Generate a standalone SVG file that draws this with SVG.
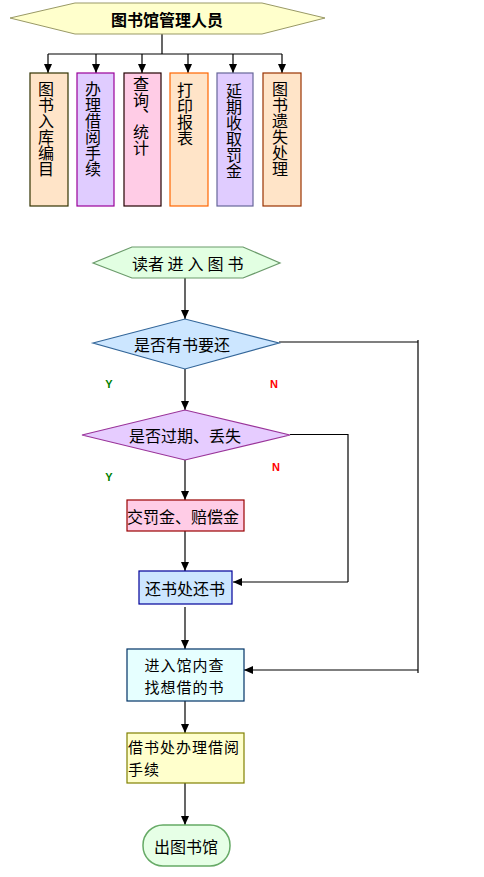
<svg xmlns="http://www.w3.org/2000/svg" width="484" height="877" viewBox="0 0 484 877">
<style>
  .t { font-family: "Noto Sans CJK SC", "Noto Sans", sans-serif; font-size: 16px; fill: #000; dominant-baseline: central; }
  .c { text-anchor: middle; }
  .two { font-size: 15px; letter-spacing: 1px; }
  .v { font-family: "Noto Sans CJK SC", "Noto Sans", sans-serif; font-size: 16px; fill: #000; writing-mode: vertical-rl; text-orientation: upright; }
  .ln { stroke: #000; stroke-width: 1.2; fill: none; }
  .arr { marker-end: url(#ah); }
  .yn { font-family: "Liberation Sans", Arial, sans-serif; font-weight: bold; font-size: 11px; text-anchor: middle; dominant-baseline: central; }
</style>
<defs>
  <marker id="ah" markerUnits="userSpaceOnUse" markerWidth="9" markerHeight="9" viewBox="0 0 9 9" refX="9" refY="4.5" orient="auto">
    <path d="M0,0.5 L9,4.5 L0,8.5 Z" fill="#000"/>
  </marker>
</defs>
<rect width="484" height="877" fill="#fff"/>

<g id="connectors">
  <line class="ln" x1="162" y1="34" x2="162" y2="54"/>
  <line class="ln" x1="48" y1="54" x2="282" y2="54"/>
  <line class="ln arr" x1="48" y1="54" x2="48" y2="73"/>
  <line class="ln arr" x1="96" y1="54" x2="96" y2="73"/>
  <line class="ln arr" x1="142" y1="54" x2="142" y2="73"/>
  <line class="ln arr" x1="188" y1="54" x2="188" y2="73"/>
  <line class="ln arr" x1="233" y1="54" x2="233" y2="73"/>
  <line class="ln arr" x1="282" y1="54" x2="282" y2="73"/>

  <line class="ln arr" x1="185" y1="278" x2="185" y2="319"/>
  <line class="ln arr" x1="185" y1="369" x2="185" y2="410"/>
  <line class="ln arr" x1="185" y1="460" x2="185" y2="500"/>
  <line class="ln arr" x1="185" y1="531" x2="185" y2="571"/>
  <line class="ln arr" x1="185" y1="607" x2="185" y2="649"/>
  <line class="ln arr" x1="185" y1="701" x2="185" y2="733"/>
  <line class="ln arr" x1="185" y1="783" x2="185" y2="825"/>

  <line class="ln" x1="279" y1="342" x2="418" y2="342"/>
  <line class="ln" x1="418" y1="340" x2="418" y2="673"/>
  <line class="ln arr" x1="418" y1="670" x2="244" y2="670"/>

  <line class="ln" x1="290" y1="434.5" x2="348" y2="434.5"/>
  <line class="ln" x1="348" y1="434" x2="348" y2="582"/>
  <line class="ln arr" x1="348" y1="582" x2="233" y2="582"/>
</g>

<g id="admin">
  <polygon points="10,18 75,3 262,3 325,18 262,34 75,34" fill="#FFFFCC" stroke="#999966" stroke-width="1"/>
  <text class="t c" x="167" y="19" font-weight="bold" font-size="16.5">图书馆管理人员</text>
</g>

<g id="box1">
  <rect x="30" y="73" width="38" height="133" fill="#FFE4C8" stroke="#333300" stroke-width="1.2"/>
  <text class="v" x="46" y="81">图书入库编目</text>
</g>
<g id="box2">
  <rect x="77" y="73" width="37" height="133" fill="#E0CCFF" stroke="#990099" stroke-width="1.2"/>
  <text class="v" x="93" y="81">办理借阅手续</text>
</g>
<g id="box3">
  <rect x="124" y="73" width="37" height="133" fill="#FFCCE6" stroke="#220000" stroke-width="1.2"/>
  <text class="v" x="141" y="76">查询、统计</text>
</g>
<g id="box4">
  <rect x="170" y="73" width="38" height="133" fill="#FFE4C8" stroke="#FF6600" stroke-width="1.2"/>
  <text class="v" x="185" y="82" font-size="15.5">打印报表</text>
</g>
<g id="box5">
  <rect x="217" y="73" width="36" height="133" fill="#E0CCFF" stroke="#666699" stroke-width="1.2"/>
  <text class="v" x="234" y="83" font-size="15.5">延期收取罚金</text>
</g>
<g id="box6">
  <rect x="263" y="73" width="38" height="133" fill="#FFE4C8" stroke="#993300" stroke-width="1.2"/>
  <text class="v" x="280" y="81">图书遗失处理</text>
</g>

<g id="start">
  <polygon points="93,263 132,247 243,247 280,263 243,278 132,278" fill="#E2FFE2" stroke="#6B9B6B" stroke-width="1.2"/>
  <text class="t" x="132" y="263" font-size="15">读者 <tspan letter-spacing="4">进入图书</tspan></text>
</g>

<g id="dec1">
  <polygon points="93,343 185,319 279,343 185,369" fill="#CCE6FF" stroke="#336699" stroke-width="1.2"/>
  <text class="t c" x="182" y="344" font-size="14.5">是否有书要还</text>
</g>
<g id="dec2">
  <polygon points="82,435 185,410 290,435 185,460" fill="#E6CCFF" stroke="#993399" stroke-width="1.2"/>
  <text class="t c" x="185" y="435" font-size="15">是否过期、丢失</text>
</g>

<g id="labels">
  <text class="yn" x="109" y="384" fill="#008000">Y</text>
  <text class="yn" x="274" y="384" fill="#FF0000">N</text>
  <text class="yn" x="109" y="477" fill="#008000">Y</text>
  <text class="yn" x="276" y="467" fill="#FF0000">N</text>
</g>

<g id="fine">
  <rect x="127" y="500" width="117" height="31" fill="#FFCCE6" stroke="#990000" stroke-width="1.2"/>
  <text class="t" x="127" y="516">交罚金、赔偿金</text>
</g>
<g id="return">
  <rect x="139" y="571" width="93" height="33" fill="#CCE6FF" stroke="#000099" stroke-width="1.2"/>
  <text class="t c" x="185" y="587.5">还书处还书</text>
</g>
<g id="search">
  <rect x="127" y="649" width="117" height="52" fill="#E6FFFF" stroke="#003366" stroke-width="1.2"/>
  <text class="t c two" x="184.5" y="664.5">进入馆内查</text>
  <text class="t c two" x="184.5" y="686.5">找想借的书</text>
</g>
<g id="borrow">
  <rect x="127" y="733" width="117" height="50" fill="#FFFFCC" stroke="#808000" stroke-width="1.2"/>
  <text class="t two" x="128" y="746.5">借书处办理借阅</text>
  <text class="t two" x="128" y="768.5">手续</text>
</g>
<g id="exit">
  <rect x="143" y="825" width="87" height="41" rx="20" ry="20" fill="#E6FFE6" stroke="#66AA66" stroke-width="1.5"/>
  <text class="t c" x="186" y="846">出图书馆</text>
</g>
</svg>
